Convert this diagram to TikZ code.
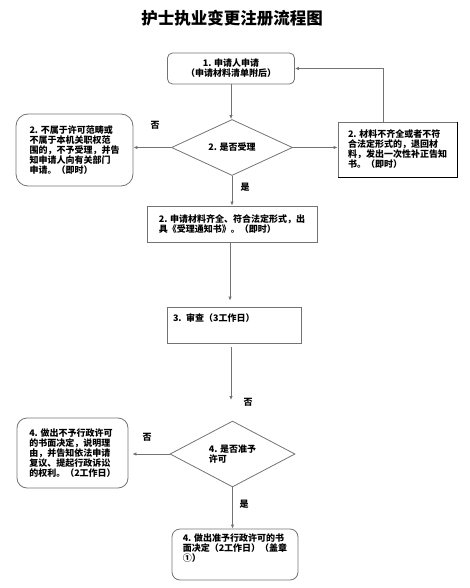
\documentclass[tikz,border=0pt]{standalone}
\usepackage{fontspec}
\setmainfont{Noto Sans CJK SC}
\usetikzlibrary{shapes.geometric,arrows.meta}
\begin{document}
\begin{tikzpicture}[x=1pt,y=-1pt,
  every node/.style={font=\fontsize{9}{10}\selectfont\bfseries, inner sep=0pt},
  linecol/.style={draw=black!55, line width=0.8pt},
  sbox/.style={linecol, rectangle, align=left},
  rbox/.style={linecol, rectangle, rounded corners=#1, align=left},
  rbox/.default=6pt,
  dia/.style={linecol, diamond, align=left},
  arr/.style={draw=black!55, line width=0.8pt, -{Latex[length=4pt,width=3.5pt]}},
  lab/.style={font=\fontsize{9}{10}\selectfont\bfseries}]
\useasboundingbox (0,0) rectangle (470,588);
\node[font=\fontsize{16.5}{18}\selectfont\bfseries] (title) at (232,18) {护士执业变更注册流程图};

\node[rbox=5pt, minimum width=127pt, minimum height=31pt, align=center] (n1) at (231,68.5)
  {1. 申请人申请\\（申请材料清单附后）};
\node[dia, minimum width=121pt, minimum height=49pt] (d1) at (232,147.5) {2. 是否受理};
\node[rbox=12pt, minimum width=117pt, minimum height=72pt] (L1) at (74.5,150)
  {2. 不属于许可范畴或\\不属于本机关职权范\\围的，不予受理，并告\\知申请人向有关部门\\申请。（即时）};
\node[sbox, minimum width=119pt, minimum height=55pt] (R1) at (397.5,149.5)
  {2. 材料不齐全或者不符\\合法定形式的，退回材\\料，发出一次性补正告知\\书。（即时）};
\draw[black, line width=1pt] (R1.north east) -- (R1.south east) -- (R1.south west);
\node[sbox, minimum width=170pt, minimum height=36pt] (A) at (232,224)
  {2. 申请材料齐全、符合法定形式，出\\具《受理通知书》。（即时）};
\node[sbox, minimum width=134pt, minimum height=36pt, text width=122pt,
  text height=11pt, text depth=19pt, inner sep=3pt] (n3) at (234,325)
  {3. 审查（3工作日）};
\coordinate (e3) at (231,400);
\node[dia, minimum width=125pt, minimum height=56pt] (d2) at (232.5,454) {4. 是否准予\\许可};
\node[rbox=10pt, minimum width=111pt, minimum height=70pt] (L4) at (72.5,453)
  {4. 做出不予行政许可\\的书面决定，说明理\\由，并告知依法申请\\复议、提起行政诉讼\\的权利。（2工作日）};
\node[rbox=8pt, minimum width=126pt, minimum height=51pt] (B) at (235,554.5)
  {4. 做出准予行政许可的书\\面决定（2工作日）（盖章\\①）\\[4pt]};

\draw[arr] (n1.south) -- (n1.south |- d1.north);
\draw[arr] (d1.west) -- (d1.west -| L1.east);
\draw[arr] (d1.east) -- (d1.east -| R1.west);
\draw[arr] ([xshift=-14.5pt]R1.north) |- (n1.east);
\draw[arr] (d1.south) -- (d1.south |- A.north);
\draw[arr, shorten >=6pt] ([xshift=-2pt]A.south) -- ([xshift=-2pt]A.south |- n3.north);
\draw[arr, shorten <=4pt] (n3.south -| e3) -- (e3);
\draw[arr, shorten >=4pt] (d2.west) -- (d2.west -| L4.east);
\draw[arr] (d2.south) -- (d2.south |- B.north);

\node[lab] (no1) at (155,125) {否};
\node[lab] (yes1) at (245,187) {是};
\node[lab] (no2) at (248,402) {否};
\node[lab] (no3) at (147,437) {否};
\node[lab] (yes2) at (244,504) {是};
\end{tikzpicture}
\end{document}
